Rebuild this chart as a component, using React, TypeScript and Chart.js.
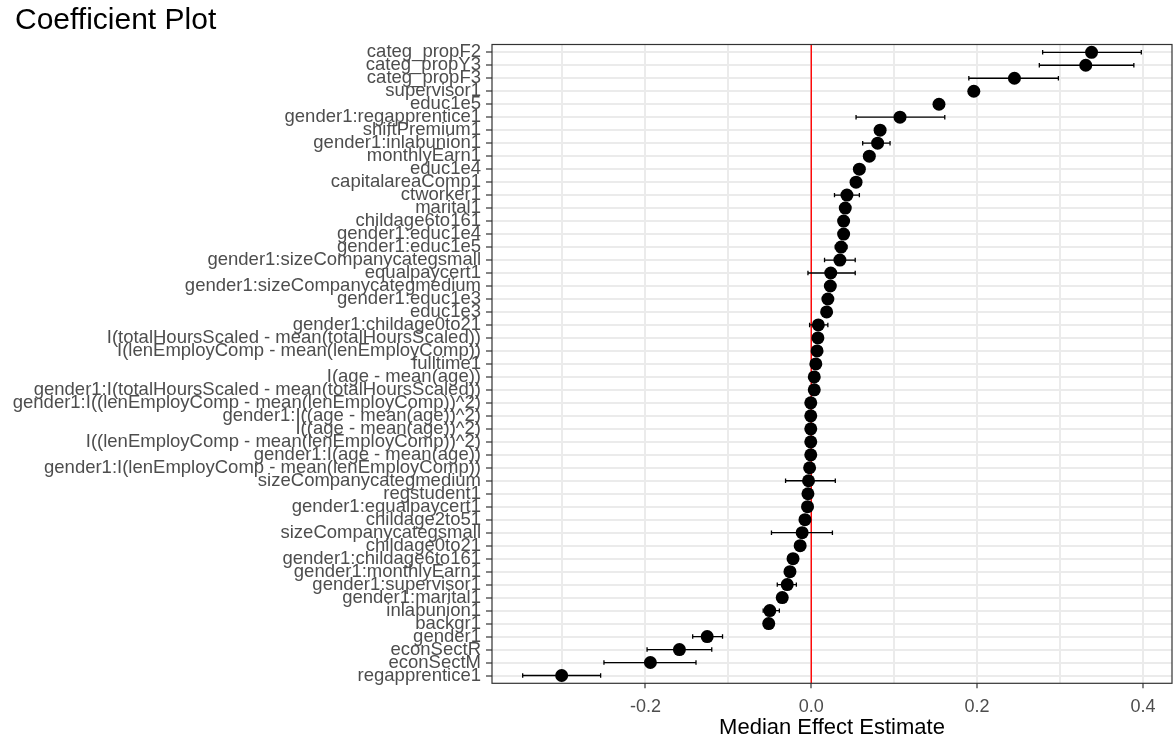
import React, { useEffect, useRef } from "react";
import { Chart, registerables } from "chart.js";

Chart.register(...registerables);

// Model terms, listed top to bottom
const terms = [
  "categ_propF2",
  "categ_propY3",
  "categ_propF3",
  "supervisor1",
  "educ1e5",
  "gender1:regapprentice1",
  "shiftPremium1",
  "gender1:inlabunion1",
  "monthlyEarn1",
  "educ1e4",
  "capitalareaComp1",
  "ctworker1",
  "marital1",
  "childage6to161",
  "gender1:educ1e4",
  "gender1:educ1e5",
  "gender1:sizeCompanycategsmall",
  "equalpaycert1",
  "gender1:sizeCompanycategmedium",
  "gender1:educ1e3",
  "educ1e3",
  "gender1:childage0to21",
  "I(totalHoursScaled - mean(totalHoursScaled))",
  "I(lenEmployComp - mean(lenEmployComp))",
  "fulltime1",
  "I(age - mean(age))",
  "gender1:I(totalHoursScaled - mean(totalHoursScaled))",
  "gender1:I((lenEmployComp - mean(lenEmployComp))^2)",
  "gender1:I((age - mean(age))^2)",
  "I((age - mean(age))^2)",
  "I((lenEmployComp - mean(lenEmployComp))^2)",
  "gender1:I(age - mean(age))",
  "gender1:I(lenEmployComp - mean(lenEmployComp))",
  "sizeCompanycategmedium",
  "regstudent1",
  "gender1:equalpaycert1",
  "childage2to51",
  "sizeCompanycategsmall",
  "childage0to21",
  "gender1:childage6to161",
  "gender1:monthlyEarn1",
  "gender1:supervisor1",
  "gender1:marital1",
  "inlabunion1",
  "backgr1",
  "gender1",
  "econSectR",
  "econSectM",
  "regapprentice1",
];

// Median effect estimates
const medians = [
  0.338, 0.331, 0.245, 0.196, 0.154, 0.107, 0.083, 0.08, 0.07, 0.058,
  0.054, 0.043, 0.041, 0.039, 0.039, 0.036, 0.0345, 0.0235, 0.023, 0.02,
  0.0185, 0.0085, 0.008, 0.007, 0.0055, 0.0036, 0.0036, -0.0006, -0.0006, -0.0006,
  -0.0006, -0.0006, -0.002, -0.0033, -0.004, -0.0045, -0.0076, -0.011, -0.0134, -0.022,
  -0.0257, -0.029, -0.035, -0.05, -0.0513, -0.1255, -0.159, -0.194, -0.301,
];

// Lower interval bounds
const lower = [
  0.279, 0.275, 0.19, 0.19, 0.149, 0.054, 0.078, 0.062, 0.066, 0.054,
  0.05, 0.028, 0.037, 0.035, 0.034, 0.029, 0.016, -0.004, 0.018, 0.015,
  0.014, -0.002, 0.005, 0.004, 0.002, 0.001, 0.0, -0.002, -0.002, -0.001,
  -0.001, -0.003, -0.006, -0.031, -0.008, -0.009, -0.011, -0.048, -0.017, -0.027,
  -0.03, -0.041, -0.039, -0.058, -0.055, -0.143, -0.198, -0.25, -0.348,
];

// Upper interval bounds
const upper = [
  0.398, 0.389, 0.298, 0.201, 0.159, 0.161, 0.088, 0.095, 0.074, 0.062,
  0.058, 0.058, 0.045, 0.044, 0.044, 0.043, 0.053, 0.053, 0.028, 0.025,
  0.023, 0.02, 0.011, 0.01, 0.009, 0.006, 0.007, 0.001, 0.001, 0.0,
  0.0, 0.002, 0.002, 0.029, 0.0, 0.0, -0.004, 0.0255, -0.01, -0.017,
  -0.021, -0.018, -0.031, -0.0385, -0.047, -0.107, -0.12, -0.139, -0.254,
];

// Vertical grid positions and the subset that carries labels
const xGridValues = [-0.3, -0.2, -0.1, 0, 0.1, 0.2, 0.3, 0.4];
const xLabelValues = [-0.2, 0, 0.2, 0.4];
const xMin = -0.385;
const xMax = 0.435;

const chartTitle = "Coefficient Plot";

const FONT = "'Liberation Sans', Arial, Helvetica, sans-serif";

// Title, zero line, horizontal intervals and the panel frame
const intervalPlugin = {
  id: "intervalBars",
  beforeDatasetsDraw(chart: any) {
    const { ctx, chartArea, scales } = chart;
    const xs = scales.x;
    const ys = scales.y;
    ctx.save();
    const x0 = xs.getPixelForValue(0);
    ctx.strokeStyle = "#FF0000";
    ctx.lineWidth = 1.4;
    ctx.beginPath();
    ctx.moveTo(x0, chartArea.top);
    ctx.lineTo(x0, chartArea.bottom);
    ctx.stroke();

    ctx.strokeStyle = "#000000";
    ctx.lineWidth = 1.3;
    const cap = 2.2;
    for (let i = 0; i < terms.length; i++) {
      const y = ys.getPixelForValue(i);
      const xl = xs.getPixelForValue(lower[i]);
      const xh = xs.getPixelForValue(upper[i]);
      ctx.beginPath();
      ctx.moveTo(xl, y);
      ctx.lineTo(xh, y);
      ctx.moveTo(xl, y - cap);
      ctx.lineTo(xl, y + cap);
      ctx.moveTo(xh, y - cap);
      ctx.lineTo(xh, y + cap);
      ctx.stroke();
    }
    ctx.restore();
  },
  afterDatasetsDraw(chart: any) {
    const { ctx, chartArea } = chart;
    ctx.save();
    ctx.strokeStyle = "#333333";
    ctx.lineWidth = 1.2;
    ctx.strokeRect(
      chartArea.left,
      chartArea.top,
      chartArea.right - chartArea.left,
      chartArea.bottom - chartArea.top
    );
    ctx.fillStyle = "#000000";
    ctx.font = `30px ${FONT}`;
    ctx.textAlign = "left";
    ctx.textBaseline = "middle";
    ctx.fillText(chartTitle, 15, 21);
    ctx.restore();
  },
};

export default function App() {
  const canvasRef = useRef<HTMLCanvasElement | null>(null);

  useEffect(() => {
    const canvas = canvasRef.current;
    if (!canvas) return;
    const chart = new Chart(canvas, {
      type: "scatter",
      data: {
        datasets: [
          {
            data: medians.map((m, i) => ({ x: m, y: i })),
            pointRadius: 6.5,
            pointBackgroundColor: "#000000",
            pointBorderWidth: 0,
            pointHoverRadius: 6.5,
          },
        ],
      },
      options: {
        responsive: false,
        animation: false,
        events: [],
        layout: { autoPadding: false, padding: { left: 10, right: 2, top: 44.5, bottom: 0 } },
        plugins: {
          legend: { display: false },
          tooltip: { enabled: false },
          title: { display: false },
        },
        scales: {
          x: {
            type: "linear",
            min: xMin,
            max: xMax,
            afterBuildTicks: (scale: any) => {
              scale.ticks = xGridValues.map((v) => ({ value: v }));
            },
            afterFit: (scale: any) => {
              scale.height = 56.7;
              scale.paddingLeft = 0;
              scale.paddingRight = 0;
            },
            border: { display: false },
            grid: {
              color: "#EBEBEB",
              lineWidth: 2,
              tickLength: 5,
              tickWidth: 1.2,
              tickColor: (c: any) =>
                xLabelValues.includes(xGridValues[c.index]) ? "#333333" : "rgba(0,0,0,0)",
            },
            ticks: {
              autoSkip: false,
              maxRotation: 0,
              padding: 8,
              color: "#4D4D4D",
              font: { family: FONT, size: 18 },
              callback: (_v: any, index: number) => {
                const v = xGridValues[index];
                return xLabelValues.includes(v) ? v.toFixed(1) : "";
              },
            },
            title: {
              display: true,
              text: "Median Effect Estimate",
              color: "#000000",
              font: { family: FONT, size: 22 },
              padding: { top: 0, bottom: -1 },
            },
          },
          y: {
            type: "linear",
            reverse: true,
            min: -0.6,
            max: terms.length - 0.4,
            afterBuildTicks: (scale: any) => {
              scale.ticks = terms.map((_, i) => ({ value: i }));
            },
            afterFit: (scale: any) => {
              scale.width = 492 - 10;
              scale.paddingTop = 0;
              scale.paddingBottom = 0;
            },
            border: { display: false },
            grid: {
              color: "#EBEBEB",
              lineWidth: 2,
              tickLength: 6,
              tickWidth: 1.2,
              tickColor: "#333333",
            },
            ticks: {
              autoSkip: false,
              padding: 5,
              color: "#4D4D4D",
              font: { family: FONT, size: 18.5 },
              callback: (_v: any, index: number) => terms[index],
            },
          },
        },
      },
      plugins: [intervalPlugin],
    } as any);
    return () => chart.destroy();
  }, []);

  return (
    <div style={{ position: "fixed", left: 0, top: 0, width: 1174, height: 740, background: "#FFFFFF" }}>
      <canvas ref={canvasRef} width={1174} height={740} style={{ display: "block" }} />
    </div>
  );
}
